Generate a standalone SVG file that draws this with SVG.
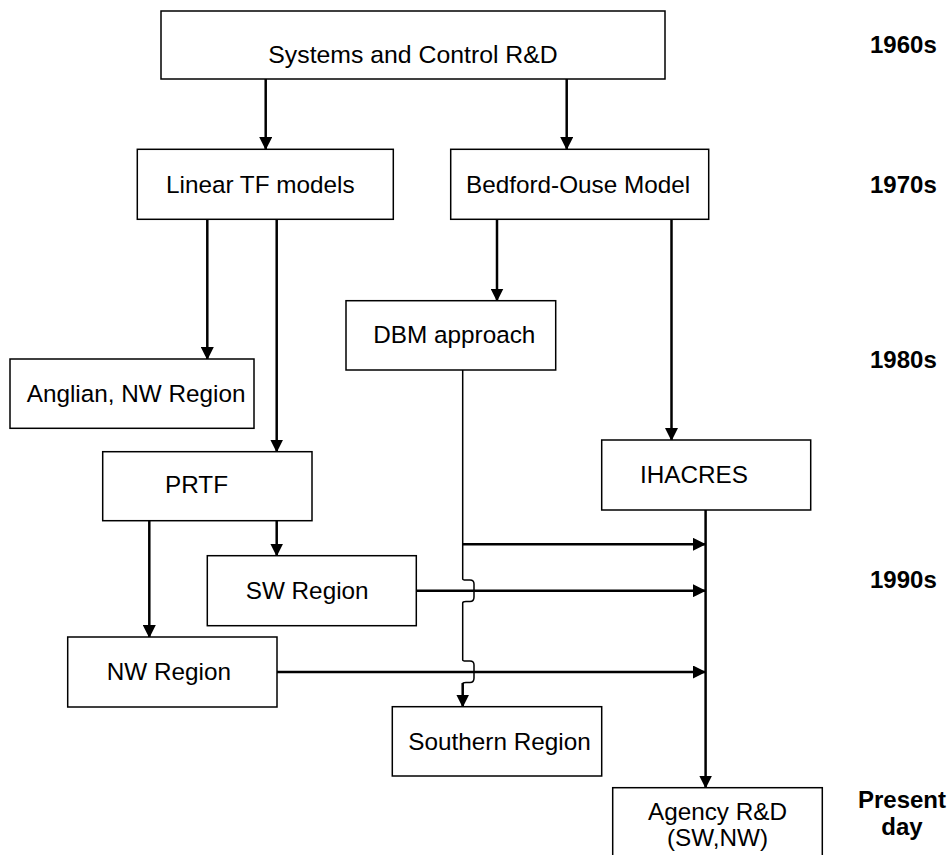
<svg xmlns="http://www.w3.org/2000/svg" width="951" height="855" viewBox="0 0 951 855">
<defs>
<marker id="ah" markerWidth="13" markerHeight="13" viewBox="0 0 13 13" refX="12" refY="6.5" orient="auto" markerUnits="userSpaceOnUse">
<path d="M0,0 L13,6.5 L0,13 Z" fill="#000"/>
</marker>
</defs>
<style>
.box{fill:#fff;stroke:#000;stroke-width:1.5}
.t{font-family:"Liberation Sans",Arial,sans-serif;font-size:24.3px;fill:#000}
.yr{font-family:"Liberation Sans",Arial,sans-serif;font-size:24px;font-weight:bold;fill:#000}
.c{fill:none;stroke:#000;stroke-width:2.5}
.thin{fill:none;stroke:#000;stroke-width:1.5}
</style>
<rect width="951" height="855" fill="#fff"/>
<g id="connectors">
<line class="c" x1="265.7" y1="79" x2="265.7" y2="149" marker-end="url(#ah)"/>
<line class="c" x1="566.7" y1="79" x2="566.7" y2="149" marker-end="url(#ah)"/>
<line class="c" x1="207.3" y1="219" x2="207.3" y2="359" marker-end="url(#ah)"/>
<line class="c" x1="276.7" y1="219" x2="276.7" y2="451.5" marker-end="url(#ah)"/>
<line class="c" x1="497" y1="219" x2="497" y2="300.5" marker-end="url(#ah)"/>
<line class="c" x1="671.5" y1="219" x2="671.5" y2="440" marker-end="url(#ah)"/>
<line class="c" x1="149.3" y1="520.7" x2="149.3" y2="637" marker-end="url(#ah)"/>
<line class="c" x1="276.7" y1="520.7" x2="276.7" y2="555.5" marker-end="url(#ah)"/>
<line class="c" x1="705.6" y1="510" x2="705.6" y2="787.5" marker-end="url(#ah)"/>
<line class="c" x1="462.7" y1="544.3" x2="705" y2="544.3" marker-end="url(#ah)"/>
<line class="c" x1="416.3" y1="590.7" x2="705" y2="590.7" marker-end="url(#ah)"/>
<line class="c" x1="277" y1="672" x2="705" y2="672" marker-end="url(#ah)"/>
<path class="thin" d="M462.7,370 V579 Q462.7,580 466,580 H470 Q474,580 474,584 V597 Q474,601.5 470,601.5 H466 Q462.7,601.5 462.7,603 V660 Q462.7,661 466,661 H470 Q474,661 474,665 V678 Q474,682.5 470,682.5 H466 Q462.7,682.5 462.7,684 V690"/>
<line class="c" x1="462.7" y1="683" x2="462.7" y2="706.5" marker-end="url(#ah)"/>
</g>
<g id="n-systems"><rect class="box" x="161" y="11" width="504" height="68"/><text class="t" x="268.3" y="63.3" style="font-size:24.8px">Systems and Control R&amp;D</text></g>
<g id="n-lineartf"><rect class="box" x="137.3" y="149.3" width="256" height="70"/><text class="t" x="166" y="193.3">Linear TF models</text></g>
<g id="n-bedford"><rect class="box" x="450.7" y="149.3" width="258" height="70"/><text class="t" x="466" y="193.3">Bedford-Ouse Model</text></g>
<g id="n-anglian"><rect class="box" x="10" y="359" width="244" height="69.3"/><text class="t" x="26.7" y="401.7">Anglian, NW Region</text></g>
<g id="n-dbm"><rect class="box" x="346" y="300.7" width="209.7" height="69.3"/><text class="t" x="373.3" y="343.3">DBM approach</text></g>
<g id="n-prtf"><rect class="box" x="102.7" y="451.7" width="209.3" height="69"/><text class="t" x="165" y="493.3">PRTF</text></g>
<g id="n-ihacres"><rect class="box" x="601.7" y="440" width="209" height="70"/><text class="t" x="640" y="482.7">IHACRES</text></g>
<g id="n-sw"><rect class="box" x="207.3" y="555.7" width="209" height="70"/><text class="t" x="245.7" y="599">SW Region</text></g>
<g id="n-nw"><rect class="box" x="67.7" y="637" width="209.3" height="70"/><text class="t" x="106.7" y="680">NW Region</text></g>
<g id="n-southern"><rect class="box" x="392.3" y="706.7" width="209.4" height="69.3"/><text class="t" x="408.3" y="750">Southern Region</text></g>
<g id="n-agency"><rect class="box" x="612.7" y="787.7" width="209.6" height="80"/><text class="t" x="717.5" y="820" text-anchor="middle">Agency R&amp;D</text><text class="t" x="717.5" y="846" text-anchor="middle">(SW,NW)</text></g>
<g id="years">
<text class="yr" x="870" y="53.3">1960s</text>
<text class="yr" x="870" y="193.3">1970s</text>
<text class="yr" x="870" y="368">1980s</text>
<text class="yr" x="870" y="587.7">1990s</text>
<text class="yr" x="902" y="808" text-anchor="middle">Present</text>
<text class="yr" x="902" y="835" text-anchor="middle">day</text>
</g>
</svg>
